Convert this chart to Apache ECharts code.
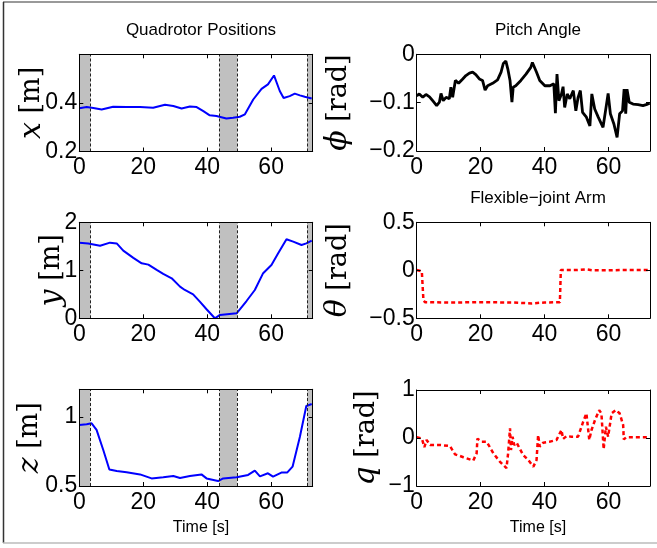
<!DOCTYPE html>
<html><head><meta charset="utf-8">
<script src="https://cdn.jsdelivr.net/npm/echarts@6/dist/echarts.min.js"></script>
<style>html,body{margin:0;padding:0;background:#fff}#c{width:657px;height:548px}</style>
</head><body><div id="c"></div>
<script>
// ---------- data ----------
const X_TICKS = [0, 20, 40, 60];
const X_MAX = 73;

const BANDS = [[0, 3.5], [43.8, 49.4], [71.25, 73]];
const BAND_EDGES = [3.5, 43.8, 49.4, 71.25];

const T_X = [0,2.3,4.4,7,10.6,14.8,19,23.1,26.8,29.4,32,34.6,36.7,38.8,40.8,42.9,46,48.1,50.2,51.8,54.4,57,59,60.9,61.5,62.7,63.9,65.8,67.4,69,70.5,72.7];
const V_X = [0.378,0.383,0.379,0.373,0.384,0.383,0.383,0.38,0.392,0.387,0.377,0.385,0.383,0.366,0.349,0.346,0.336,0.339,0.343,0.353,0.414,0.458,0.476,0.513,0.507,0.449,0.42,0.428,0.438,0.431,0.425,0.418];

const T_Y = [0,2.8,6.5,9.6,11.7,13.75,16.9,19.5,21.6,24.2,26.25,28.9,31.5,33,35.6,37.7,39.8,42.4,44,49.2,52.3,54.9,57.5,60.1,62.2,64.8,66.9,69.5,71,72.7];
const V_Y = [1.576,1.56,1.51,1.576,1.56,1.41,1.26,1.146,1.118,1.007,0.924,0.833,0.66,0.59,0.5,0.347,0.188,0,0.07,0.104,0.36,0.59,0.94,1.11,1.354,1.646,1.597,1.528,1.56,1.618];

const T_Z = [0,2.3,3.85,5.4,7.5,9.4,11.7,14.8,19,22.6,26.25,29.4,29.9,31.5,34.6,38.2,39.8,43.4,45,49.2,52.8,54.9,56.5,59,60.6,63.2,65,66.7,69,71,72.7];
const V_Z = [0.942,0.947,0.954,0.906,0.761,0.62,0.609,0.599,0.584,0.555,0.563,0.572,0.584,0.558,0.572,0.584,0.555,0.536,0.555,0.563,0.58,0.611,0.57,0.592,0.568,0.597,0.597,0.64,0.857,1.079,1.094];

const T_PHI = [0,0.8,1.9,2.9,4,5,6.25,7.1,7.6,8.3,9.2,10.2,10.7,11.25,12.1,13.1,14.4,15.4,16.5,17.5,18.5,19.6,20.6,21.4,22.2,23.75,25.3,26.4,27.1,27.9,28.5,29.2,29.8,30.2,31,32.6,34.2,35.7,36.2,37.5,38.5,40.1,41.7,42.9,43.4,43.9,44.5,45.3,45.8,46.3,47.1,47.9,49,49.8,50.5,51.2,51.9,53.1,54.2,54.8,55.7,56.8,58.3,59.4,59.9,60.6,61.7,62.7,63.5,64.4,64.9,65.4,65.8,66.5,67.7,69.3,70.8,72.3,72.9];
const V_PHI = [-0.086,-0.082,-0.089,-0.083,-0.088,-0.096,-0.106,-0.099,-0.081,-0.096,-0.089,-0.092,-0.068,-0.089,-0.054,-0.06,-0.051,-0.044,-0.039,-0.037,-0.042,-0.051,-0.054,-0.074,-0.065,-0.06,-0.053,-0.037,-0.019,-0.014,-0.03,-0.054,-0.099,-0.068,-0.065,-0.054,-0.041,-0.027,-0.017,-0.037,-0.054,-0.065,-0.065,-0.061,-0.122,-0.041,-0.096,-0.082,-0.067,-0.11,-0.082,-0.092,-0.075,-0.117,-0.089,-0.075,-0.12,-0.13,-0.148,-0.082,-0.113,-0.13,-0.151,-0.103,-0.081,-0.123,-0.144,-0.172,-0.123,-0.117,-0.072,-0.123,-0.072,-0.099,-0.103,-0.104,-0.106,-0.103,-0.101];

const T_TH = [0,1.6,2.1,2.6,10,20,30,36,40,44.8,45.1,50,53,55,60,65,72.9];
const V_TH = [0.003,-0.01,-0.31,-0.333,-0.335,-0.333,-0.335,-0.345,-0.335,-0.333,0.003,0.003,0.01,0,0,0.003,0.003];

const T_Q = [0,1.6,2.4,3.1,4.2,7.3,10.4,12,14.6,17.7,18.75,19,20.3,21.9,24,26,28.1,28.6,29.2,29.5,30,30.5,31.25,33.3,34.9,36.5,37.5,38,38.5,39.6,41.7,43.75,45.3,45.8,46.9,48.4,50.5,52.1,53.1,54,54.7,55.8,57.1,57.8,58.5,59.2,59.9,61,62.3,63.5,64.6,64.8,65.6,72.9];
const V_Q = [0.014,-0.007,-0.19,-0.04,-0.146,-0.146,-0.167,-0.34,-0.4,-0.47,-0.32,-0.014,-0.076,-0.076,-0.32,-0.49,-0.63,-0.32,0.2,-0.25,0.028,-0.146,-0.097,-0.354,-0.458,-0.597,-0.458,0.0625,-0.18,-0.097,-0.076,-0.04,0.167,-0.02,0.04,0.028,0.028,0.34,0.514,-0.04,0.167,0.375,0.58,0.514,-0.236,0.236,0.028,0.514,0.58,0.514,0.27,-0.028,0.014,0.014];

const Y_TICKS_X = [0.2, 0.4];
const Y_TICKS_Y = [0, 1, 2];
const Y_TICKS_Z = [0.5, 1];
const Y_TICKS_PHI = [-0.2, -0.1, 0];
const Y_TICKS_TH = [-0.5, 0, 0.5];
const Y_TICKS_Q = [-1, 0, 1];

const TITLES = ['Quadrotor Positions', 'Pitch Angle', 'Flexible\u2212joint Arm'];
const XLABEL = 'Time [s]';

// ---------- layout ----------
const SANS = "'Liberation Sans', Arial, Helvetica, sans-serif";
const SERIF = "'DejaVu Serif', 'Liberation Serif', serif";
const panels = [
  {grid:{left:79.3,top:54.3,width:233.4,height:97.2}, min:0.2, max:0.6, ticks:Y_TICKS_X, sym:'x', unit:'[m]', gap:32, t:T_X, v:V_X, kind:'blue', bands:true},
  {grid:{left:79.3,top:222.3,width:233.4,height:96}, min:0, max:2, ticks:Y_TICKS_Y, sym:'y', unit:'[m]', gap:12, t:T_Y, v:V_Y, kind:'blue', bands:true},
  {grid:{left:79.3,top:389.3,width:233.4,height:96.7}, min:0.5, max:1.2, ticks:Y_TICKS_Z, sym:'z', unit:'[m]', gap:34, t:T_Z, v:V_Z, kind:'blue', bands:true},
  {grid:{left:416.7,top:54.3,width:233.3,height:96.7}, min:-0.2, max:0, ticks:Y_TICKS_PHI, sym:'\u03D5', unit:'[rad]', gap:63, t:T_PHI, v:V_PHI, kind:'black'},
  {grid:{left:416.7,top:222.3,width:233.3,height:96}, min:-0.5, max:0.5, ticks:Y_TICKS_TH, sym:'\u03B8', unit:'[rad]', gap:63, t:T_TH, v:V_TH, kind:'red'},
  {grid:{left:416.7,top:390,width:233.3,height:96}, min:-1, max:1, ticks:Y_TICKS_Q, sym:'q', unit:'[rad]', gap:35, t:T_Q, v:V_Q, kind:'red'}
];

const grids = [], xAxes = [], yAxes = [], series = [];
const axisLine = {show:true, onZero:false, lineStyle:{color:'#000', width:1}};
panels.forEach((p, i) => {
  grids.push(Object.assign({containLabel:false}, p.grid));
  ['bottom','top'].forEach(pos => xAxes.push({
    type:'value', gridIndex:i, min:0, max:X_MAX, position:pos, z:5,
    axisLine, splitLine:{show:false},
    axisTick:{show:true, inside:true, length:4, customValues:X_TICKS, lineStyle:{color:'#000'}},
    axisLabel:{show:pos==='bottom', customValues:X_TICKS, fontSize:23, color:'#000', margin:5, fontFamily:SANS}
  }));
  ['left','right'].forEach(pos => yAxes.push({
    type:'value', gridIndex:i, min:p.min, max:p.max, position:pos, z:5,
    axisLine, splitLine:{show:false},
    axisTick:{show:true, inside:true, length:4, customValues:p.ticks, lineStyle:{color:'#000'}},
    axisLabel:{show:pos==='left', customValues:p.ticks, fontSize:23, color:'#000', margin:2, fontFamily:SANS,
      formatter: v => String(v).replace('-', '\u2212')},
    name: pos==='left' ? '{s|' + p.sym + '} ' + p.unit : '',
    nameLocation:'middle', nameGap:p.gap, nameRotate:90, nameMoveOverlap:false,
    nameTextStyle:{fontFamily:SERIF, fontSize:27, color:'#000',
      rich:{s:{fontFamily:SERIF, fontStyle:'italic', fontSize:30, color:'#000'}}}
  }));
  const s = {
    type:'line', xAxisIndex:2*i, yAxisIndex:2*i, showSymbol:false, animation:false, z:3,
    data: p.t.map((t, k) => [t, p.v[k]]),
    lineStyle: p.kind==='blue' ? {color:'#0000ff', width:2}
             : p.kind==='black' ? {color:'#000', width:2.8}
             : {color:'#ff0000', width:2.5, type:[4,3]}
  };
  if (p.bands) {
    s.markArea = {silent:true, itemStyle:{color:'#c0c0c0'},
      data: BANDS.map(b => [{xAxis:b[0]}, {xAxis:b[1]}])};
    s.markLine = {silent:true, symbol:['none','none'], label:{show:false},
      lineStyle:{type:[3,2], color:'#222', width:1},
      data: BAND_EDGES.map(e => ({xAxis:e}))};
  }
  series.push(s);
});

const titleStyle = {fontFamily:SANS, fontSize:17, fontWeight:'normal', color:'#000'};
const labStyle = {fontFamily:SANS, fontSize:16, fontWeight:'normal', color:'#000'};
const titles = [
  {text:TITLES[0], left:196, top:17, textAlign:'center', textStyle:titleStyle},
  {text:TITLES[1], left:533, top:17, textAlign:'center', textStyle:titleStyle},
  {text:TITLES[2], left:533, top:185, textAlign:'center', textStyle:titleStyle},
  {text:XLABEL, left:196, top:515, textAlign:'center', textStyle:labStyle},
  {text:XLABEL, left:533, top:515, textAlign:'center', textStyle:labStyle}
];

const chart = echarts.init(document.getElementById('c'), null, {renderer:'canvas'});
chart.setOption({
  backgroundColor:'#fff',
  animation:false,
  title:titles,
  grid:grids, xAxis:xAxes, yAxis:yAxes, series,
  graphic:[
    {type:'line', shape:{x1:3,y1:2,x2:657,y2:2}, style:{stroke:'#777', lineWidth:1.5}},
    {type:'line', shape:{x1:3.5,y1:2,x2:3.5,y2:543}, style:{stroke:'#333', lineWidth:1.5}},
    {type:'line', shape:{x1:3,y1:543,x2:657,y2:543}, style:{stroke:'#bbb', lineWidth:1.5}}
  ]
});
</script></body></html>
